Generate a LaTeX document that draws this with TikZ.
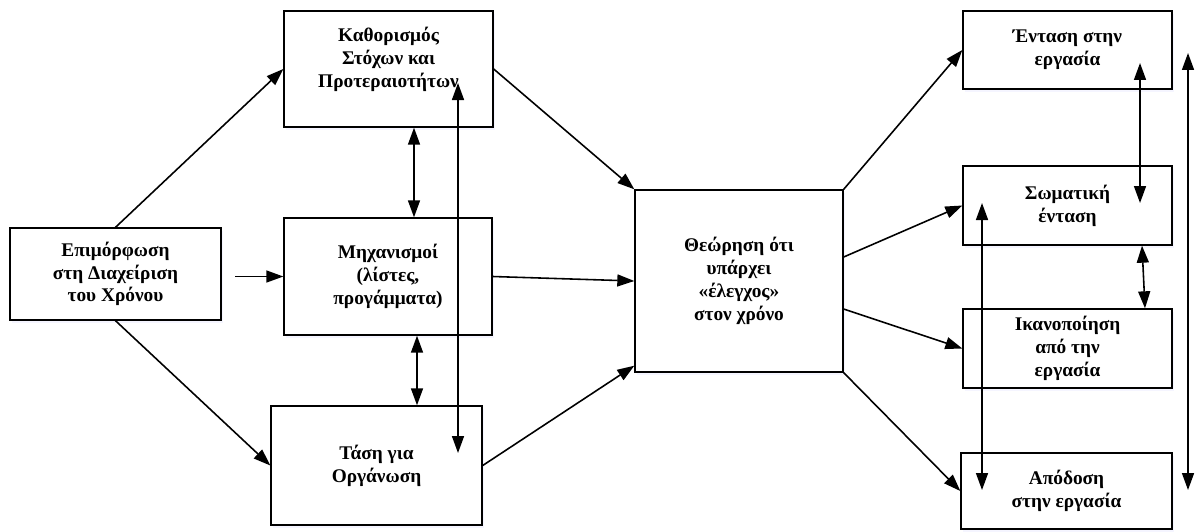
\documentclass[tikz,border=0pt]{standalone}
\usepackage{fontspec}
\setmainfont{Liberation Serif}
\usetikzlibrary{arrows.meta,calc,shadows}

\tikzset{
	box/.style={draw, line width=0.8pt, fill=white, align=center, inner sep=0pt,
		font=\bfseries\fontsize{11}{13}\selectfont,
		drop shadow={shadow xshift=0.04cm, shadow yshift=-0.06cm, fill=blue!8}},
	arr/.style={-{Triangle[length=0.34cm,width=0.24cm]}, line width=0.9pt},
	darr/.style={{Triangle[length=0.34cm,width=0.24cm]}-{Triangle[length=0.34cm,width=0.24cm]}, line width=0.9pt}
}

\begin{document}
\begin{tikzpicture}[x=0.02cm, y=-0.02cm]
				\useasboundingbox (0,0) rectangle (1195,531);
				\begin{scope}
					\node[box, minimum width=4.22cm, minimum height=1.84cm] (train) at (115.5,274) {Επιμόρφωση\\στη Διαχείριση\\του Χρόνου};
					\node[box, minimum width=4.18cm, minimum height=2.32cm] (goals) at (388.5,69) {Καθορισμός\\Στόχων και\\Προτεραιοτήτων\\\mbox{}};
					\node[box, minimum width=4.16cm, minimum height=2.34cm] (mech) at (388,276.5) {Μηχανισμοί\\(λίστες,\\προγάμματα)};
					\node[box, minimum width=4.22cm, minimum height=2.38cm] (org) at (376.5,465.5) {Τάση για\\Οργάνωση};
					\node[box, minimum width=4.16cm, minimum height=3.64cm] (ctrl) at (739,281) {Θεώρηση ότι\\υπάρχει\\«έλεγχος»\\στον χρόνο};

					\node[box, minimum width=4.18cm, minimum height=1.56cm] (tens) at (1067.5,50) {Ένταση στην\\εργασία};
					\node[box, minimum width=4.18cm, minimum height=1.58cm] (phys) at (1067.5,205.5) {Σωματική\\ένταση};
					\node[box, minimum width=4.18cm, minimum height=1.58cm] (sat) at (1067.5,348.5) {Ικανοποίηση\\από την\\εργασία};
					\node[box, minimum width=4.22cm, minimum height=1.52cm] (perf) at (1066.5,491) {Απόδοση\\στην εργασία};

					\coordinate (m1) at ($(mech.north)+(26,0)$);
					\coordinate (m2) at ($(mech.south)+(29,0)$);
					\coordinate (g1) at (458,83);
					\coordinate (o1) at (458,453);
					\coordinate (t1) at (1140,63);
					\coordinate (p1) at (1140,203);
					\coordinate (p2) at (982,203);
					\coordinate (a1) at (982,490);
					\coordinate (r1) at (1188,53);
					\coordinate (r2) at (1188,490);

					\draw[arr] (train.north) -- (goals.west); % verso i stoscopi
					\draw[arr] (train.south) -- (org.west);
					\draw[arr] ($(mech.west)+(-48,0)$) -- (mech.west);

					\draw[darr] (m1 |- goals.south) -- (m1); % tra i blocchi a sinistra
					\draw[darr] (m2) -- (m2 |- org.north);
					\draw[darr] (g1) -- (o1);

					\draw[arr] (goals.east) -- (ctrl.north west); % verso il centro
					\draw[arr] (mech.east) -- (ctrl.west);
					\draw[arr] (org.east) -- ($(ctrl.south west)+(0,-7)$);

					\draw[arr] (ctrl.north east) -- (tens.west); % verso destra
					\draw[arr] ($(ctrl.east)+(0,-24)$) -- (phys.west);
					\draw[arr] ($(ctrl.east)+(0,28)$) -- (sat.west);
					\draw[arr] (ctrl.south east) -- (perf.west);

					\draw[darr] (t1) -- (p1); % tra i blocchi a destra
					\draw[darr] ($(phys.south)+(74.5,0)$) -- ($(sat.north)+(77.5,0)$);
					\draw[darr] (p2) -- (a1);
					\draw[darr] (r1) -- (r2);
				\end{scope}
			\end{tikzpicture}
\end{document}
